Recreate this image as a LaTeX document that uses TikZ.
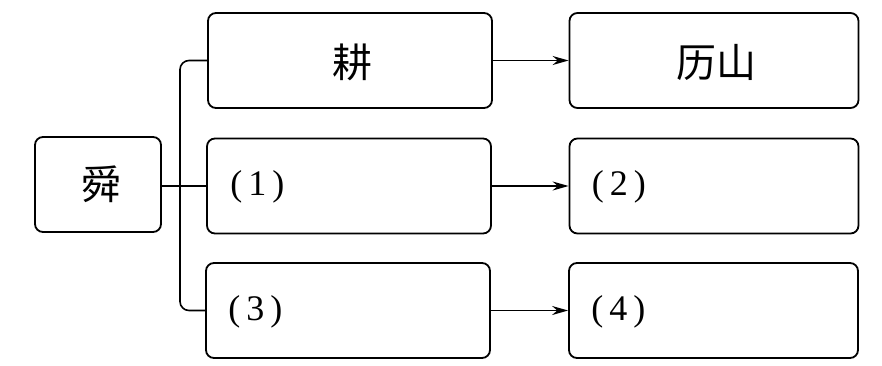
\documentclass[tikz,border=0pt]{standalone}
\usepackage{fontspec}
\setmainfont{Liberation Serif}
\newfontfamily\cjk{Noto Sans CJK SC}
\usetikzlibrary{arrows.meta}
\begin{document}
\begin{tikzpicture}[x=1pt,y=-1pt,
  box/.style={draw, line width=1.8pt, rounded corners=8pt, inner sep=0pt},
  conn/.style={line width=1.6pt},
  arr/.style={line width=1.6pt, -{Stealth[length=16pt,width=9pt]}},
  cjktext/.style={font=\cjk\fontsize{40}{40}\selectfont},
  numtext/.style={font=\fontsize{36}{36}\selectfont, anchor=west, inner sep=0pt}]
\useasboundingbox (0,0) rectangle (882,365);
\node[box, minimum width=126pt, minimum height=95pt] (shun) at (98,184.5) {};
\node[box, minimum width=284pt, minimum height=95pt] (geng) at (350,60.5) {};
\node[box, minimum width=284pt, minimum height=95pt] (c1) at (349,186) {};
\node[box, minimum width=284pt, minimum height=95pt] (c3) at (348,310.5) {};
\node[box, minimum width=289pt, minimum height=95pt] (lishan) at (714,60.5) {};
\node[box, minimum width=289pt, minimum height=95pt] (c2) at (714,186) {};
\node[box, minimum width=289pt, minimum height=95pt] (c4) at (713.5,310.5) {};
\node[cjktext] (tshun) at (101,184) {舜};
\node[cjktext] (tgeng) at (352,62) {耕};
\node[cjktext] (tlishan) at (716,62) {历山};
\node[numtext] (t1) at ([xshift=24pt,yshift=-1pt]c1.west) {(\hspace{6pt}1\hspace{6pt})};
\node[numtext] (t2) at ([xshift=23pt,yshift=-1pt]c2.west) {(\hspace{6pt}2\hspace{6pt})};
\node[numtext] (t3) at ([xshift=23pt,yshift=-1pt]c3.west) {(\hspace{6pt}3\hspace{6pt})};
\node[numtext] (t4) at ([xshift=23pt,yshift=-1pt]c4.west) {(\hspace{6pt}4\hspace{6pt})};
\coordinate (j) at (180,186);
\draw[conn] (shun.east |- c1.west) -- (c1.west);
\draw[conn, rounded corners=9pt] (geng.west) -| (j) |- (c3.west);
\draw[arr] (geng.east) -- (lishan.west);
\draw[arr] (c1.east) -- (c2.west);
\draw[arr] (c3.east) -- (c4.west);
\end{tikzpicture}
\end{document}
